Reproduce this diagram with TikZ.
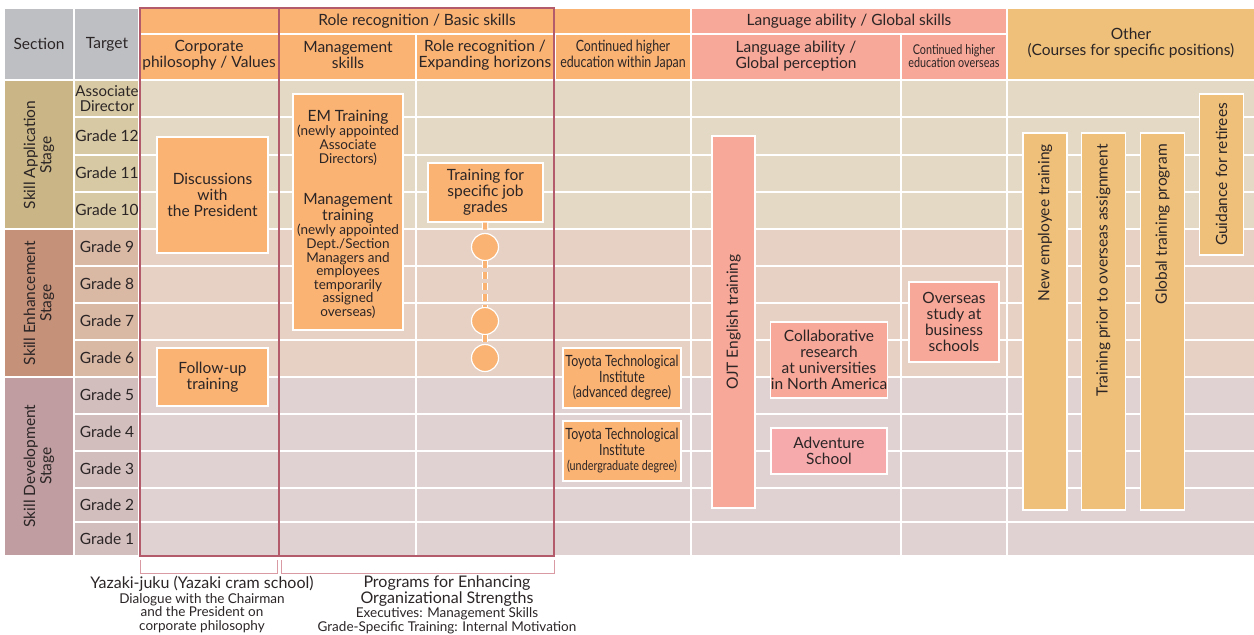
\documentclass[tikz,border=0pt]{standalone}
\usepackage{fontspec}
\setmainfont{Lato}
\newfontfamily\narrowfont[FakeStretch=0.8]{Lato}
\usetikzlibrary{positioning}

\definecolor{ink}{HTML}{2B2526}
\definecolor{hdrgray}{HTML}{BEBFC3}
\definecolor{orng}{HTML}{FBB373}
\definecolor{salmon}{HTML}{F8A898}
\definecolor{gold}{HTML}{EFC07A}
\definecolor{rose}{HTML}{F6AAAC}
\definecolor{framered}{HTML}{B35A6B}
\definecolor{brk}{HTML}{D99AA4}
\definecolor{appS}{HTML}{C9B585}
\definecolor{appT}{HTML}{D7C9A3}
\definecolor{appB}{HTML}{E3D9C4}
\definecolor{enhS}{HTML}{C59179}
\definecolor{enhT}{HTML}{D9B8A4}
\definecolor{enhB}{HTML}{E6D1C4}
\definecolor{devS}{HTML}{BF9DA0}
\definecolor{devT}{HTML}{D3BEBE}
\definecolor{devB}{HTML}{E0D1D2}

\newcommand{\mainsz}{\fontsize{15.5}{16.2}\selectfont}
\newcommand{\notesz}{\fontsize{13.5}{13.6}\selectfont}
\newcommand{\capsz}{\fontsize{16}{15.5}\selectfont}
\newcommand{\slimsz}{\narrowfont\fontsize{15.5}{15.5}\selectfont}
\newcommand{\slimnotesz}{\narrowfont\fontsize{13.5}{13.5}\selectfont}

\begin{document}
\begin{tikzpicture}[x=1pt, y=-1pt, font=\mainsz, text=ink,
  cell/.style={draw=white, line width=1.5pt},
  grid/.style={white, line width=1.2pt},
  lbl/.style={align=center, inner sep=0pt},
  note/.style={lbl, font=\notesz},
  slim/.style={lbl, font=\slimsz},
  box/.style={rectangle, draw=white, line width=1.2pt, fill=orng, align=center, inner sep=0pt},
  bar/.style={box, fill=gold, minimum width=44pt},
  dot/.style={circle, fill=orng, draw=white, line width=1.2pt, minimum size=27pt, inner sep=0pt},
  link/.style={orng, line width=4pt, dash pattern=on 7pt off 4pt,
    preaction={draw=white, line width=6.5pt, dash pattern=on 7pt off 4pt}},
  frame/.style={framered, line width=2.5pt},
  brace/.style={brk, line width=1pt}]

  \useasboundingbox (0,0) rectangle (1254,635);

  % header cells
  \filldraw[cell, fill=hdrgray] (4,8) rectangle (74,80);
  \filldraw[cell, fill=hdrgray] (74,8) rectangle (139,80);
  \filldraw[cell, fill=orng] (139,8) rectangle (691,34);
  \filldraw[cell, fill=salmon] (691,8) rectangle (1007,34);
  \filldraw[cell, fill=gold] (1007,8) rectangle (1256,80);
  \foreach \xa/\xb in {139/279, 279/416, 416/555, 555/691}
    \filldraw[cell, fill=orng] (\xa,34) rectangle (\xb,80);
  \foreach \xa/\xb in {691/901, 901/1007}
    \filldraw[cell, fill=salmon] (\xa,34) rectangle (\xb,80);

  \node[lbl] (sec-hd) at (39,44) {Section};
  \node[lbl] (tgt-hd) at (107,44) {Target};
  \node[lbl] (role-hd) at (417,21) {Role recognition / Basic skills};
  \node[lbl] (lang-hd) at (849,21) {Language ability / Global skills};
  \node[lbl] (other-hd) at (1131,43) {Other\\(Courses for specific positions)};
  \node[lbl] (corp-hd) at (209,55) {Corporate\\philosophy / Values};
  \node[lbl] (mgmt-hd) at (348,55) {Management\\skills};
  \node[lbl] (exp-hd) at (485,55) {Role recognition /\\Expanding horizons};
  \node[slim] (jp-hd) at (623,55) {Continued higher\\education within Japan};
  \node[lbl] (glob-hd) at (796,56) {Language ability /\\Global perception};
  \node[lbl, font=\slimnotesz] (abroad-hd) at (954,56) {Continued higher\\education overseas};

  % stage bands
  \foreach \ya/\yb/\cs/\ct/\cb in {80/229/appS/appT/appB, 229/377/enhS/enhT/enhB, 377/556/devS/devT/devB} {
    \filldraw[cell, fill=\cs] (4,\ya) rectangle (74,\yb);
    \filldraw[cell, fill=\ct] (74,\ya) rectangle (139,\yb);
    \filldraw[cell, fill=\cb] (139,\ya) rectangle (1256,\yb);
  }
  \foreach \y in {117,155,192,266,303,340,414,451,488,522}
    \draw[grid] (74,\y) -- (1256,\y);
  \foreach \x in {416,691,901,1007}
    \draw[grid] (\x,80) -- (\x,556);

  \node[lbl, rotate=90] (app) at (39,155) {Skill Application\\Stage};
  \node[lbl, rotate=90] (enh) at (39,303) {Skill Enhancement\\Stage};
  \node[lbl, rotate=90] (dev) at (39,466) {Skill Development\\Stage};

  \node[lbl, font=\fontsize{15}{15}\selectfont] (g-ad) at (107,99) {Associate\\Director};
  \foreach \n/\y in {12/136, 11/173, 10/210, 9/247, 8/284, 7/321, 6/358, 5/395, 4/432, 3/469, 2/505, 1/539}
    \node[lbl] (g-\n) at (107,\y) {Grade \n};

  % programme frames
  \draw[frame] (140,8) rectangle (279,556);
  \draw[frame] (279,8) rectangle (554,556);

  % corporate philosophy
  \node[box, minimum width=111pt, minimum height=116pt] (talks) at (212.5,195) {Discussions\\with\\the President};
  \node[box, minimum width=111pt, minimum height=58pt] (followup) at (212.5,377) {Follow-up\\training};

  % management skills
  \node[box, minimum width=110pt, minimum height=236pt] (mgmt) at (348,212) {};
  \node[lbl] (em-title) at (348,117) {EM Training};
  \node[note, below=1pt of em-title] (em-note) {(newly appointed\\Associate\\Directors)};
  \node[lbl] (mt-title) at (348,208) {Management\\training};
  \node[note, below=1pt of mt-title] (mt-note) {(newly appointed\\Dept./Section\\Managers and\\employees\\temporarily\\assigned\\overseas)};

  % grade-specific training
  \node[box, minimum width=115pt, minimum height=59pt] (grades) at (485.5,192.5) {Training for\\specific job\\grades};
  \node[dot] (d1) at (485,247) {};
  \node[dot] (d2) at (485,321) {};
  \node[dot] (d3) at (485,358) {};
  \draw[link] (grades) -- (d1);
  \draw[link] (d1) -- (d2);
  \draw[link] (d2) -- (d3);

  % higher education in Japan
  \node[box, minimum width=118pt, minimum height=60pt, font=\slimsz] (tti-adv) at (622,378)
    {Toyota Technological\\Institute\\(advanced degree)};
  \node[box, minimum width=118pt, minimum height=60pt, font=\slimsz] (tti-ug) at (622,451)
    {Toyota Technological\\Institute\\{\slimnotesz(undergraduate degree)}};

  % language ability
  \node[box, fill=salmon, minimum width=43pt, minimum height=372pt] (ojt) at (733.5,322) {};
  \node[lbl, rotate=90] (ojt-txt) at (ojt.center) {OJT English training};
  \node[box, fill=salmon, minimum width=116pt, minimum height=76pt] (collab) at (829,360)
    {Collaborative\\research\\at universities\\in North America};
  \node[box, fill=rose, minimum width=116pt, minimum height=46pt] (adventure) at (829,451) {Adventure\\School};
  \node[box, fill=salmon, minimum width=90pt, minimum height=80pt] (mba) at (954,322)
    {Overseas\\study at\\business\\schools};

  % other courses
  \node[bar, minimum height=377pt] (newhire) at (1045,321.5) {};
  \node[bar, minimum height=377pt] (predep) at (1103.5,321.5) {};
  \node[bar, minimum height=377pt] (globprog) at (1162.5,321.5) {};
  \node[bar, minimum height=161pt] (retire) at (1221.5,174.5) {};
  \node[lbl, rotate=90, anchor=east] (newhire-txt) at (1045,144) {New employee training};
  \node[lbl, rotate=90, anchor=east] (predep-txt) at (1103.5,144) {Training prior to overseas assignment};
  \node[lbl, rotate=90, anchor=east] (globprog-txt) at (1162.5,144) {Global training program};
  \node[lbl, rotate=90] (retire-txt) at (retire.center) {Guidance for retirees};

  % brackets and captions
  \draw[brace] (140,560) -- (140,573) -- (277,573) -- (277,560);
  \draw[brace] (281,560) -- (281,573) -- (554,573) -- (554,560);
  \node[lbl, font=\capsz] (juku) at (202,584) {Yazaki-juku (Yazaki cram school)};
  \node[note, below=1pt of juku] (juku-note) {Dialogue with the Chairman\\and the President on\\corporate philosophy};
  \node[lbl, font=\capsz] (org) at (447,591) {Programs for Enhancing\\Organizational Strengths};
  \node[note, below=1pt of org] (org-note) {Executives: Management Skills\\Grade-Specific Training: Internal Motivation};
\end{tikzpicture}
\end{document}
